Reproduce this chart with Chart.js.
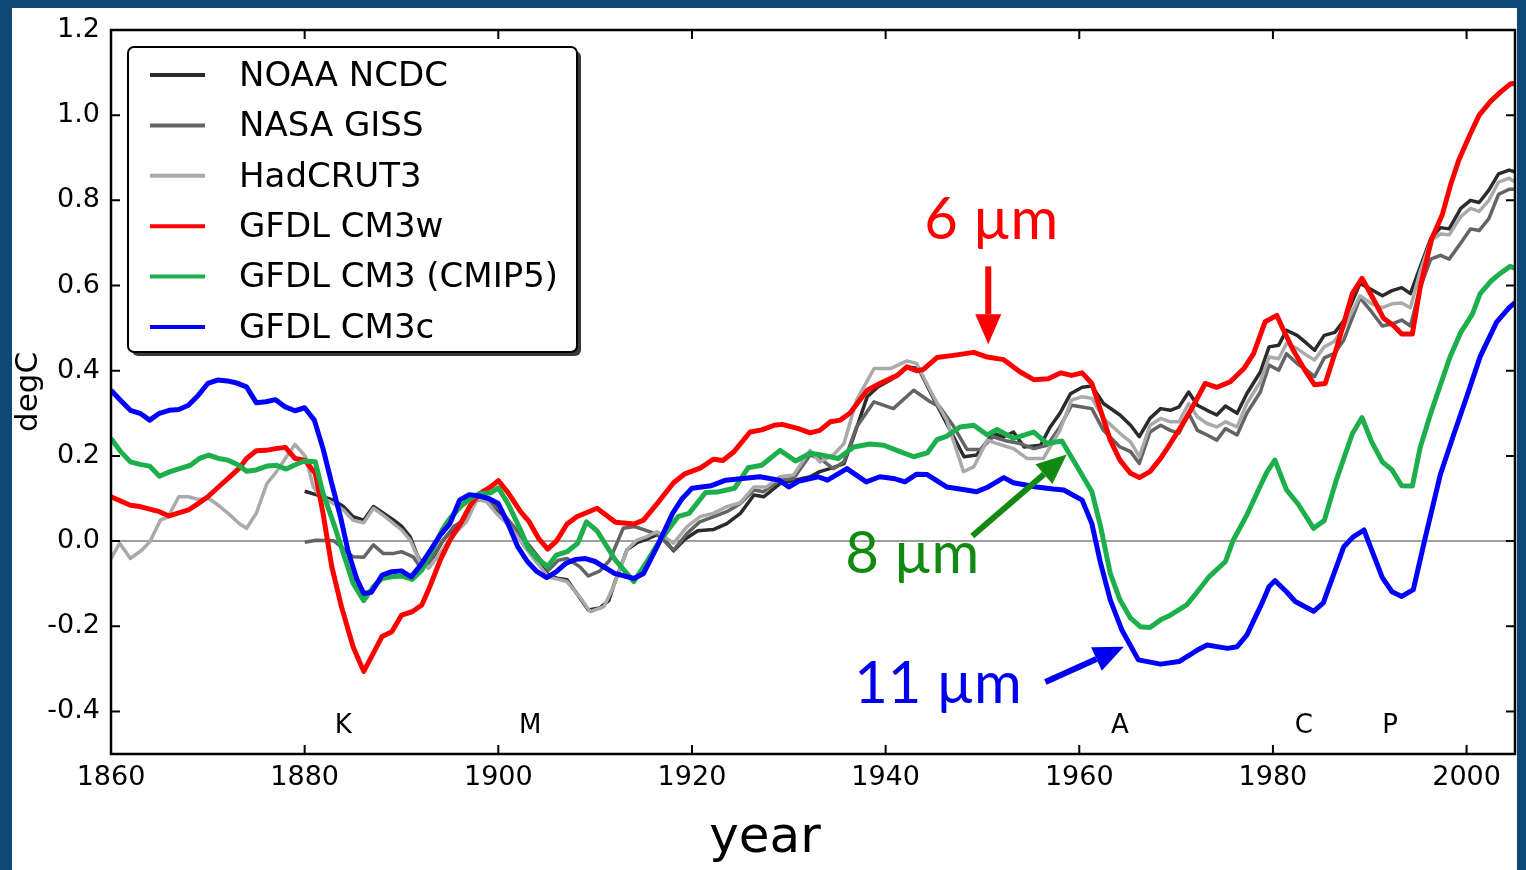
<!DOCTYPE html>
<html>
<head>
<meta charset="utf-8">
<script src="https://cdn.jsdelivr.net/npm/chart.js@4.4.0/dist/chart.umd.min.js"></script>
<style>
  html, body { margin: 0; padding: 0; background: #0c4778; overflow: hidden; }
  #wrap { position: absolute; left: 0; top: 0; width: 1526px; height: 870px; }
</style>
</head>
<body>
<div id="wrap"><canvas id="chart" width="1526" height="870"></canvas></div>
<script>
// ---- data: [year, degC] ----
const noaaNcdc = [[1880,0.117],[1881.6,0.106],[1883,0.096],[1884,0.081],[1885,0.057],[1886.1,0.049],[1887.1,0.081],[1888.1,0.066],[1889.2,0.049],[1890,0.035],[1890.9,0.01],[1891.7,-0.037],[1892.4,-0.06],[1893.3,-0.037],[1894.3,0.002],[1895.4,0.03],[1896.4,0.049],[1897.8,0.1],[1898.8,0.098],[1900.2,0.062],[1901.4,0.03],[1903.6,-0.037],[1905.2,-0.08],[1906.2,-0.088],[1907.1,-0.091],[1908.1,-0.123],[1909.3,-0.162],[1910.5,-0.157],[1911.4,-0.14],[1912,-0.099],[1913.3,-0.02],[1914.4,-0.003],[1915.5,0.006],[1916.4,0.015],[1917.2,0.002],[1918.1,-0.023],[1919.3,0.005],[1920.6,0.024],[1922.2,0.027],[1923.6,0.041],[1925,0.065],[1926.4,0.108],[1927.4,0.104],[1929.1,0.135],[1930.4,0.142],[1932.2,0.151],[1933.2,0.163],[1934.5,0.172],[1935.7,0.182],[1936.7,0.245],[1938.1,0.339],[1939.2,0.362],[1940.5,0.378],[1942.3,0.409],[1943.4,0.405],[1944.95,0.335],[1946.3,0.276],[1948.1,0.198],[1949.4,0.202],[1951.1,0.253],[1952.2,0.245],[1953.2,0.256],[1954.3,0.221],[1956,0.225],[1957,0.268],[1958,0.3],[1959.1,0.346],[1960.3,0.361],[1961.3,0.364],[1962.5,0.323],[1964.2,0.296],[1965.3,0.272],[1966.2,0.245],[1967.3,0.288],[1968.4,0.311],[1969.4,0.307],[1970.3,0.315],[1971.3,0.35],[1972.2,0.319],[1973.2,0.307],[1974.2,0.296],[1975.1,0.317],[1976.3,0.3],[1977.3,0.346],[1978.7,0.397],[1979.6,0.456],[1980.6,0.46],[1981.4,0.495],[1982.5,0.483],[1983.5,0.464],[1984.3,0.448],[1985.3,0.483],[1986.4,0.49],[1987.4,0.52],[1989,0.605],[1990.2,0.59],[1991.3,0.576],[1992.3,0.588],[1993.3,0.595],[1994.2,0.581],[1995.2,0.643],[1996.3,0.71],[1997.3,0.736],[1998.2,0.733],[1999.4,0.781],[2000.4,0.8],[2001.3,0.795],[2002.3,0.824],[2003.3,0.862],[2004.4,0.871],[2005,0.867]];

const nasaGiss = [[1880,-0.003],[1881.2,0.002],[1883,0.001],[1885,-0.037],[1886.1,-0.038],[1887.1,-0.009],[1888.1,-0.029],[1889.2,-0.029],[1890,-0.025],[1891.2,-0.037],[1891.9,-0.06],[1892.8,-0.052],[1894.3,0.002],[1895.4,0.034],[1896.4,0.049],[1897.8,0.096],[1898.8,0.096],[1900.2,0.073],[1901.2,0.045],[1903.3,-0.013],[1905.2,-0.068],[1906.2,-0.045],[1907.1,-0.041],[1908.4,-0.06],[1909.3,-0.082],[1910.5,-0.07],[1911.5,-0.045],[1912.9,0.03],[1914.1,0.034],[1916.4,0.016],[1918.1,-0.021],[1919.5,0.018],[1920.8,0.045],[1922.2,0.057],[1923.6,0.069],[1925,0.088],[1926.4,0.12],[1927.4,0.116],[1929.1,0.143],[1930.5,0.147],[1932.2,0.202],[1933.2,0.194],[1934.6,0.17],[1935.7,0.186],[1937,0.268],[1938.8,0.327],[1940.8,0.311],[1942.9,0.354],[1944.6,0.327],[1945.6,0.315],[1947,0.27],[1948.4,0.215],[1949.8,0.215],[1951.1,0.245],[1952.5,0.235],[1953.9,0.229],[1955.3,0.217],[1956.7,0.225],[1958,0.268],[1959.2,0.319],[1960.3,0.315],[1961.3,0.311],[1962.5,0.26],[1964.2,0.221],[1965.3,0.21],[1966.2,0.182],[1967.3,0.256],[1968.4,0.272],[1969.4,0.26],[1970.3,0.253],[1971.3,0.3],[1972.2,0.26],[1973.2,0.249],[1974.2,0.237],[1975.1,0.264],[1976.3,0.249],[1977.3,0.3],[1978.7,0.35],[1979.6,0.413],[1980.6,0.401],[1981.4,0.44],[1982.5,0.417],[1983.5,0.401],[1984.3,0.386],[1985.3,0.43],[1986.3,0.44],[1987.3,0.471],[1989,0.571],[1990.2,0.538],[1991.3,0.505],[1992.3,0.51],[1993.3,0.519],[1994.2,0.505],[1995.2,0.595],[1996.3,0.662],[1997.3,0.671],[1998.2,0.662],[1999.4,0.7],[2000.4,0.733],[2001.3,0.729],[2002.3,0.757],[2003.3,0.814],[2004.4,0.826],[2005,0.826]];

const hadcrut3 = [[1860,-0.041],[1860.9,-0.005],[1862,-0.041],[1863.2,-0.021],[1864,-0.002],[1865.1,0.049],[1865.9,0.057],[1867,0.104],[1868,0.104],[1869,0.098],[1870.1,0.1],[1871.1,0.084],[1872.1,0.065],[1873.2,0.042],[1874,0.03],[1875,0.065],[1876.1,0.135],[1877.1,0.163],[1878,0.194],[1879,0.227],[1880.1,0.198],[1880.9,0.127],[1881.6,0.104],[1883,0.088],[1884,0.073],[1885,0.049],[1886.1,0.043],[1887.1,0.077],[1888.1,0.061],[1889.2,0.041],[1890,0.026],[1890.9,0.002],[1891.9,-0.048],[1892.8,-0.064],[1893.6,-0.041],[1894.7,-0.005],[1895.7,0.022],[1896.7,0.045],[1897.8,0.098],[1898.8,0.092],[1899.8,0.065],[1901.2,0.034],[1903.6,-0.04],[1905.2,-0.085],[1906.2,-0.09],[1907.1,-0.095],[1908.4,-0.131],[1909.5,-0.166],[1910.9,-0.154],[1911.9,-0.107],[1913.3,-0.02],[1914.3,0.002],[1915.3,0.01],[1916.4,0.022],[1917.4,0.006],[1918.1,-0.005],[1919.5,0.034],[1920.8,0.057],[1922.2,0.065],[1923.6,0.081],[1925,0.09],[1926.4,0.127],[1927.7,0.127],[1929.1,0.151],[1930.5,0.155],[1932.2,0.213],[1933.2,0.186],[1934.6,0.202],[1935.7,0.229],[1937,0.331],[1938.8,0.405],[1940.5,0.405],[1942.2,0.423],[1943.2,0.417],[1944.95,0.339],[1946.3,0.284],[1948.05,0.163],[1949.1,0.174],[1950.5,0.237],[1951.5,0.229],[1953.2,0.217],[1954.6,0.194],[1956.3,0.194],[1958,0.26],[1959.2,0.331],[1960.3,0.339],[1961.3,0.335],[1962.5,0.288],[1964.2,0.253],[1965.3,0.233],[1966.2,0.198],[1967.3,0.272],[1968.4,0.288],[1969.4,0.28],[1970.3,0.28],[1971.3,0.323],[1972.2,0.292],[1973.2,0.276],[1974.2,0.268],[1975.1,0.28],[1976.3,0.268],[1977.3,0.323],[1978.7,0.374],[1979.6,0.432],[1980.6,0.428],[1981.4,0.464],[1982.5,0.452],[1983.5,0.436],[1984.3,0.425],[1985.3,0.456],[1986.3,0.468],[1987.3,0.5],[1989,0.576],[1990.2,0.557],[1991.3,0.548],[1992.3,0.557],[1993.3,0.559],[1994.2,0.548],[1995.2,0.633],[1996.3,0.705],[1997.3,0.721],[1998.2,0.719],[1999.4,0.762],[2000.4,0.781],[2001.3,0.774],[2002.3,0.8],[2003.3,0.843],[2004.4,0.852],[2005,0.843]];

const cm3w = [[1860,0.104],[1862,0.084],[1863,0.081],[1864,0.075],[1865,0.069],[1866,0.059],[1867,0.066],[1868,0.073],[1869,0.088],[1870,0.104],[1871.3,0.131],[1872.1,0.147],[1873.2,0.17],[1874,0.194],[1875,0.212],[1876,0.213],[1877,0.217],[1878,0.22],[1879,0.194],[1880,0.19],[1881.1,0.159],[1881.9,0.065],[1882.8,-0.06],[1883.8,-0.154],[1885,-0.248],[1886.1,-0.306],[1887.1,-0.263],[1888,-0.224],[1889,-0.213],[1890,-0.174],[1891.1,-0.166],[1892.1,-0.15],[1893,-0.103],[1894,-0.045],[1895,0.002],[1896.1,0.041],[1897.1,0.084],[1898.1,0.112],[1899.2,0.127],[1900,0.142],[1901,0.114],[1902.3,0.069],[1903.2,0.045],[1904.2,0.005],[1905.1,-0.019],[1906,0.0],[1907.1,0.04],[1908.1,0.057],[1910.2,0.077],[1912.1,0.044],[1914,0.04],[1915,0.049],[1916.4,0.088],[1918.1,0.137],[1919.2,0.157],[1920.9,0.172],[1922.2,0.192],[1923.2,0.189],[1924.3,0.209],[1926,0.256],[1927.2,0.261],[1928.5,0.272],[1929.3,0.274],[1931,0.264],[1932.2,0.254],[1933.2,0.26],[1934.3,0.28],[1935.3,0.284],[1936.3,0.3],[1938.1,0.354],[1939.4,0.37],[1941.2,0.389],[1942.2,0.409],[1943.2,0.4],[1943.9,0.403],[1945.3,0.431],[1947,0.436],[1949.1,0.443],[1950.5,0.432],[1952.2,0.426],[1953.9,0.397],[1955.3,0.379],[1956.8,0.381],[1958.1,0.395],[1959.2,0.389],[1960.3,0.395],[1961.3,0.37],[1962.2,0.307],[1963.2,0.237],[1964.2,0.19],[1965.3,0.159],[1966.2,0.149],[1967.3,0.163],[1968.4,0.194],[1969.4,0.229],[1970.6,0.272],[1971.8,0.319],[1973,0.37],[1974.2,0.361],[1975.6,0.374],[1977,0.405],[1978,0.44],[1979.2,0.515],[1980.4,0.53],[1981.1,0.495],[1982.1,0.448],[1983.2,0.405],[1984.3,0.367],[1985.4,0.37],[1986.6,0.455],[1988.2,0.581],[1989.2,0.617],[1990.2,0.576],[1991.4,0.524],[1992.5,0.505],[1993.3,0.486],[1994.4,0.486],[1995.2,0.595],[1996.4,0.71],[1997.5,0.767],[1998.3,0.833],[1999.2,0.895],[2000.4,0.957],[2001.3,1.0],[2002.5,1.033],[2003.5,1.054],[2004.5,1.073],[2005,1.075]];

const cm3cmip5 = [[1860,0.241],[1861,0.21],[1862,0.186],[1863,0.18],[1864,0.176],[1865,0.152],[1866.1,0.163],[1867.1,0.17],[1868.2,0.178],[1869.2,0.195],[1870.1,0.202],[1871.1,0.194],[1872.1,0.19],[1873.2,0.178],[1874,0.164],[1875,0.167],[1876.1,0.176],[1877.1,0.178],[1878.1,0.169],[1879.2,0.181],[1880,0.188],[1881.1,0.186],[1881.9,0.112],[1883,0.041],[1884,-0.029],[1885,-0.099],[1886.1,-0.14],[1887.1,-0.107],[1888,-0.088],[1889,-0.084],[1890,-0.082],[1891.1,-0.09],[1892.1,-0.068],[1893.1,-0.025],[1894.2,0.026],[1895,0.053],[1896.1,0.081],[1897.1,0.1],[1898.1,0.112],[1899.2,0.113],[1900,0.125],[1901,0.088],[1902.3,0.026],[1903.1,-0.017],[1904.1,-0.043],[1905.1,-0.06],[1906,-0.033],[1907.1,-0.025],[1908.2,-0.005],[1909.1,0.045],[1910.2,0.024],[1912.1,-0.045],[1914,-0.095],[1915.3,-0.05],[1916.6,-0.002],[1918.6,0.058],[1919.7,0.065],[1921.4,0.114],[1922.6,0.115],[1924.4,0.124],[1925.8,0.172],[1927.2,0.178],[1929.1,0.213],[1930.7,0.188],[1932.2,0.206],[1933.2,0.203],[1935.1,0.194],[1936.7,0.221],[1938.4,0.228],[1939.8,0.225],[1941.5,0.21],[1942.9,0.198],[1944.3,0.207],[1945.3,0.238],[1946.3,0.246],[1947.7,0.268],[1949.1,0.272],[1950.5,0.249],[1951.5,0.262],[1953.2,0.241],[1955.3,0.256],[1956.7,0.229],[1958.2,0.235],[1959.8,0.174],[1961.3,0.116],[1962.2,0.034],[1963.2,-0.076],[1964.2,-0.138],[1965.3,-0.181],[1966.3,-0.201],[1967.3,-0.203],[1968.4,-0.185],[1969.4,-0.174],[1971.1,-0.15],[1972.2,-0.119],[1973.4,-0.084],[1975.1,-0.048],[1975.9,0.002],[1977.3,0.061],[1978.5,0.12],[1979.4,0.163],[1980.2,0.19],[1981.4,0.12],[1982.6,0.087],[1984.2,0.03],[1985.3,0.048],[1986.5,0.14],[1988.2,0.252],[1989.2,0.29],[1990.2,0.233],[1991.3,0.186],[1992.3,0.167],[1993.3,0.13],[1994.4,0.129],[1995.2,0.219],[1996.3,0.3],[1997.3,0.367],[1998.3,0.433],[1999.4,0.49],[2000.6,0.533],[2001.4,0.581],[2002.5,0.61],[2003.5,0.629],[2004.5,0.645],[2005,0.641]];

const cm3c = [[1860,0.354],[1861,0.33],[1862,0.307],[1863,0.30],[1864,0.284],[1865,0.30],[1866,0.307],[1867,0.309],[1868,0.319],[1869,0.342],[1870,0.37],[1871,0.378],[1872,0.376],[1873,0.371],[1874,0.362],[1875,0.325],[1876,0.327],[1877,0.332],[1878,0.315],[1879,0.306],[1880,0.313],[1881,0.284],[1881.9,0.217],[1882.8,0.135],[1883.7,0.057],[1884.5,-0.025],[1885.4,-0.09],[1886.1,-0.123],[1886.9,-0.12],[1888,-0.08],[1889,-0.072],[1890,-0.07],[1891,-0.084],[1892,-0.056],[1893,-0.021],[1894,0.014],[1895,0.041],[1896,0.096],[1897,0.109],[1898,0.106],[1899,0.10],[1900,0.088],[1901,0.041],[1902,-0.013],[1903,-0.048],[1904,-0.072],[1905,-0.086],[1906,-0.072],[1907,-0.052],[1908,-0.043],[1909,-0.041],[1910,-0.048],[1912,-0.076],[1914,-0.088],[1915,-0.076],[1916.4,-0.013],[1918,0.065],[1919,0.1],[1920,0.124],[1922,0.13],[1923.5,0.143],[1927,0.151],[1929,0.143],[1930,0.127],[1931,0.14],[1933,0.151],[1934,0.143],[1936,0.17],[1938,0.139],[1939.4,0.151],[1940.8,0.147],[1942,0.139],[1943.2,0.157],[1944.3,0.156],[1946.3,0.127],[1948,0.121],[1949.4,0.116],[1950.6,0.127],[1952.2,0.149],[1953.2,0.137],[1955.6,0.127],[1957.3,0.122],[1958.4,0.12],[1960.3,0.096],[1961.3,0.041],[1962.2,-0.052],[1963.2,-0.138],[1964.4,-0.209],[1966.1,-0.279],[1968.4,-0.289],[1970.3,-0.283],[1972.2,-0.256],[1973.2,-0.244],[1975.3,-0.252],[1976.3,-0.248],[1977.3,-0.221],[1978.7,-0.154],[1979.6,-0.107],[1980.2,-0.093],[1981.4,-0.119],[1982.3,-0.142],[1984.2,-0.165],[1985.2,-0.145],[1987.3,-0.014],[1988.3,0.01],[1989.4,0.026],[1991.3,-0.086],[1992.3,-0.119],[1993.3,-0.13],[1994.5,-0.114],[1995.7,0.005],[1997.3,0.157],[1998.7,0.252],[2000,0.338],[2001.4,0.433],[2003.1,0.514],[2004.4,0.548],[2005,0.56]];

const xTicks = [1860, 1880, 1900, 1920, 1940, 1960, 1980, 2000];
const yTicks = [-0.4, -0.2, 0.0, 0.2, 0.4, 0.6, 0.8, 1.0, 1.2];

// volcano letters (Krakatoa, Santa Maria, Agung, El Chichon, Pinatubo)
const volcanoLabels = ['K', 'M', 'A', 'C', 'P'];
const volcanoLabelYears = [1884.0, 1903.3, 1964.2, 1983.2, 1992.1];

// callouts: [text, textYear, textValue, tailYear, tailValue, tipYear, tipValue]
const callouts = [
  ['6 µm', 1950.9, 0.7085, 1950.6, 0.645, 1950.6, 0.462],
  ['8 µm', 1942.75, -0.075, 1948.95, 0.012, 1958.7, 0.203],
  ['11 µm', 1945.4, -0.38, 1956.5, -0.331, 1964.6, -0.248]
];
const calloutColors = ['#ff0000', '#128a12', '#0000ee'];

function toPoints(pairs) {
  return pairs.map(p => ({ x: p[0], y: p[1] }));
}

const FONT = "'DejaVu Sans', sans-serif";

function drawArrow(ctx, x0, y0, x1, y1, color, width) {
  const ang = Math.atan2(y1 - y0, x1 - x0);
  const headLen = 30, headHalf = 13;
  const bx = x1 - headLen * Math.cos(ang);
  const by = y1 - headLen * Math.sin(ang);
  ctx.save();
  ctx.strokeStyle = color;
  ctx.fillStyle = color;
  ctx.lineWidth = width;
  ctx.beginPath();
  ctx.moveTo(x0, y0);
  ctx.lineTo(bx, by);
  ctx.stroke();
  ctx.beginPath();
  ctx.moveTo(x1, y1);
  ctx.lineTo(bx + headHalf * Math.sin(ang), by - headHalf * Math.cos(ang));
  ctx.lineTo(bx - headHalf * Math.sin(ang), by + headHalf * Math.cos(ang));
  ctx.closePath();
  ctx.fill();
  ctx.restore();
}

const framePlugin = {
  id: 'frame',
  beforeDraw(chart) {
    const ctx = chart.ctx;
    ctx.save();
    ctx.fillStyle = '#0c4778';
    ctx.fillRect(0, 0, chart.width, chart.height);
    ctx.fillStyle = '#ffffff';
    ctx.fillRect(12, 8, 1505, chart.height - 8);
    ctx.restore();
  },
  beforeDatasetsDraw(chart) {
    const ctx = chart.ctx;
    const a = chart.chartArea;
    const y0 = chart.scales.y.getPixelForValue(0);
    ctx.save();
    ctx.strokeStyle = '#808080';
    ctx.lineWidth = 1.5;
    ctx.beginPath();
    ctx.moveTo(a.left, y0);
    ctx.lineTo(a.right, y0);
    ctx.stroke();
    ctx.restore();
  },
  afterDatasetsDraw(chart) {
    const ctx = chart.ctx;
    const a = chart.chartArea;
    const xs = chart.scales.x;
    const ys = chart.scales.y;
    ctx.save();

    // axes box with inward ticks
    ctx.strokeStyle = '#000';
    ctx.lineWidth = 2.5;
    ctx.strokeRect(a.left, a.top, a.right - a.left, a.bottom - a.top);
    ctx.lineWidth = 2;
    const tl = 9;
    ctx.beginPath();
    xTicks.forEach(v => {
      const px = xs.getPixelForValue(v);
      ctx.moveTo(px, a.bottom); ctx.lineTo(px, a.bottom - tl);
      ctx.moveTo(px, a.top); ctx.lineTo(px, a.top + tl);
    });
    yTicks.forEach(v => {
      const py = ys.getPixelForValue(v);
      ctx.moveTo(a.left, py); ctx.lineTo(a.left + tl, py);
      ctx.moveTo(a.right, py); ctx.lineTo(a.right - tl, py);
    });
    ctx.stroke();

    // volcano letters
    ctx.fillStyle = '#000';
    ctx.font = '26px ' + FONT;
    ctx.textAlign = 'center';
    ctx.textBaseline = 'middle';
    volcanoLabels.forEach((t, i) => {
      ctx.fillText(t, xs.getPixelForValue(volcanoLabelYears[i]), ys.getPixelForValue(-0.434));
    });

    // axis titles
    ctx.font = '31px ' + FONT;
    ctx.save();
    ctx.translate(29, 392);
    ctx.rotate(-Math.PI / 2);
    ctx.fillText('degC', 0, 0);
    ctx.restore();
    ctx.font = '50px ' + FONT;
    ctx.textBaseline = 'alphabetic';
    ctx.fillText('year', 765, 852);

    // callouts
    callouts.forEach((c, i) => {
      const col = calloutColors[i];
      ctx.fillStyle = col;
      ctx.font = "58px Lato, 'Open Sans', sans-serif";
      ctx.textAlign = 'center';
      ctx.textBaseline = 'alphabetic';
      ctx.fillText(c[0], xs.getPixelForValue(c[1]), ys.getPixelForValue(c[2]));
      drawArrow(ctx, xs.getPixelForValue(c[3]), ys.getPixelForValue(c[4]),
        xs.getPixelForValue(c[5]), ys.getPixelForValue(c[6]), col, 6);
    });

    // legend box
    const lx = 128, ly = 47, lw = 449, lh = 305, r = 6;
    function rr(x, y) {
      ctx.beginPath();
      ctx.moveTo(x + r, y);
      ctx.lineTo(x + lw - r, y);
      ctx.arcTo(x + lw, y, x + lw, y + r, r);
      ctx.lineTo(x + lw, y + lh - r);
      ctx.arcTo(x + lw, y + lh, x + lw - r, y + lh, r);
      ctx.lineTo(x + r, y + lh);
      ctx.arcTo(x, y + lh, x, y + lh - r, r);
      ctx.lineTo(x, y + r);
      ctx.arcTo(x, y, x + r, y, r);
      ctx.closePath();
    }
    ctx.fillStyle = '#3a3a3a';
    rr(lx + 4, ly + 4);
    ctx.fill();
    ctx.fillStyle = '#ffffff';
    rr(lx, ly);
    ctx.fill();
    ctx.strokeStyle = '#000';
    ctx.lineWidth = 2;
    ctx.stroke();

    ctx.font = '34px ' + FONT;
    ctx.textAlign = 'left';
    ctx.textBaseline = 'middle';
    chart.data.datasets.forEach((ds, i) => {
      const y = 75 + i * 50.4;
      ctx.strokeStyle = ds.borderColor;
      ctx.lineWidth = 4;
      ctx.beginPath();
      ctx.moveTo(150, y);
      ctx.lineTo(205, y);
      ctx.stroke();
      ctx.fillStyle = '#000';
      ctx.fillText(ds.label, 239, y + 2);
    });
    ctx.restore();
  }
};

const datasets = [
  { label: 'NOAA NCDC', data: toPoints(noaaNcdc), borderColor: '#2b2b2b', borderWidth: 3.5, order: 6 },
  { label: 'NASA GISS', data: toPoints(nasaGiss), borderColor: '#646464', borderWidth: 3.5, order: 5 },
  { label: 'HadCRUT3', data: toPoints(hadcrut3), borderColor: '#aaaaaa', borderWidth: 3.5, order: 4 },
  { label: 'GFDL CM3w', data: toPoints(cm3w), borderColor: '#ff0000', borderWidth: 5, order: 3 },
  { label: 'GFDL CM3 (CMIP5)', data: toPoints(cm3cmip5), borderColor: '#1daf4b', borderWidth: 5, order: 2 },
  { label: 'GFDL CM3c', data: toPoints(cm3c), borderColor: '#0000ff', borderWidth: 5, order: 1 }
];
datasets.forEach(d => {
  d.pointRadius = 0;
  d.tension = 0;
  d.fill = false;
  d.borderJoinStyle = 'round';
});

new Chart(document.getElementById('chart'), {
  type: 'line',
  data: { datasets: datasets },
  options: {
    responsive: false,
    animation: false,
    devicePixelRatio: 1,
    layout: { padding: { top: 30, right: 11, left: 0, bottom: 0 } },
    plugins: {
      legend: { display: false },
      tooltip: { enabled: false },
      title: { display: false }
    },
    scales: {
      x: {
        type: 'linear',
        min: 1860,
        max: 2005,
        grid: { display: false, drawTicks: false },
        border: { display: false },
        afterBuildTicks: s => { s.ticks = xTicks.map(v => ({ value: v })); },
        afterFit: s => { s.height = 116; },
        ticks: {
          padding: 8,
          maxRotation: 0,
          color: '#000',
          font: { family: FONT, size: 27 },
          callback: v => String(v)
        }
      },
      y: {
        type: 'linear',
        min: -0.5,
        max: 1.2,
        grid: { display: false, drawTicks: false },
        border: { display: false },
        afterBuildTicks: s => { s.ticks = yTicks.map(v => ({ value: v })); },
        afterFit: s => { s.width = 111; },
        ticks: {
          padding: 11,
          color: '#000',
          font: { family: FONT, size: 27 },
          callback: v => v.toFixed(1)
        }
      }
    }
  },
  plugins: [framePlugin]
});
</script>
</body>
</html>
